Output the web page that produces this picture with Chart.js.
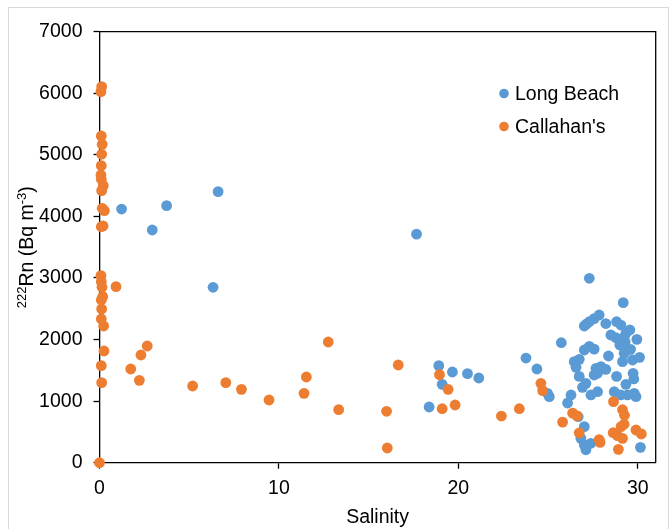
<!DOCTYPE html>
<html>
<head>
<meta charset="utf-8">
<script src="https://cdn.jsdelivr.net/npm/chart.js@4.4.1/dist/chart.umd.min.js"></script>
<style>
  html, body { margin: 0; padding: 0; background: #fff; }
  #wrap { width: 672px; height: 529px; position: relative; }
</style>
</head>
<body>
<div id="wrap"><canvas id="c" width="672" height="529"></canvas></div>
<script>
// ---- Data ----
const seriesNames = ["Long Beach", "Callahan's"];
const seriesColors = ["#5B9BD5", "#ED7D31"];

const longBeachSalinity = [
  1.23, 3.74, 6.61, 2.94, 6.33, 17.67,
  18.91, 19.1, 19.67, 20.51, 21.14, 18.37, 23.77, 24.38,
  25.07, 24.97, 25.74, 26.09, 26.28, 26.68,
  27.02, 26.83, 27.02, 27.11, 27.39, 30.15,
  27.3, 29.19, 27.85, 27.57, 27.3, 27.02, 27.15,
  28.22, 28.82, 29.06, 29.56, 29.34,
  28.5, 28.78, 29.15, 29.95, 29.3,
  27.3, 27.02, 27.57, 29.0, 29.43, 29.6, 29.24,
  30.1, 29.71, 28.37, 29.15,
  26.46, 26.74, 26.56, 27.67, 27.95, 28.22,
  26.74, 27.57, 27.76, 28.82, 29.74, 29.78, 29.34,
  27.11, 26.92, 27.39, 27.76,
  28.69, 29.06, 29.43, 29.8, 29.9
];
const longBeachRn = [
  4120, 4175, 4402, 3779, 2849, 3712,
  1576, 1273, 1473, 1446, 1376, 905, 1700, 1522,
  1073, 1127, 1949, 970, 1100, 747,
  585, 396, 290, 210, 315, 250,
  2995, 2599, 2399, 2340, 2290, 2220, 2255,
  2260, 2290, 2236, 2155, 2101,
  2074, 2030, 2020, 2004, 1960,
  1890, 1830, 1845, 1912, 1830, 1841, 1776,
  1711, 1668, 1733, 1641,
  1641, 1679, 1549, 1533, 1560, 1516,
  1402, 1424, 1452, 1402, 1452, 1360, 1273,
  1289, 1224, 1100, 1153,
  1153, 1100, 1100, 1127, 1073
];

const callahansSalinity = [
  0.12, 0.08, 0.1, 0.15, 0.12, 0.1, 0.08, 0.1, 0.21, 0.12, 0.15, 0.27, 0.1, 0.2,
  0.08, 0.1, 0.14, 0.18, 0.1, 0.12, 0.1, 0.23, 0.25, 0.1, 0.12, 0,
  0.92, 2.66, 2.31, 1.74, 2.22, 5.19, 7.04, 7.91, 9.45, 11.4, 11.53, 12.75,
  13.33, 16.0, 16.04, 16.65, 18.95, 19.43, 19.1, 19.82, 22.4, 23.4,
  24.6, 24.7, 25.81, 26.37, 26.62, 26.74, 27.85, 27.9,
  28.65, 29.15, 29.26, 29.24, 29.07, 28.63, 28.87, 29.15, 28.92, 29.9, 30.2
];
const callahansRn = [
  6107, 6026, 5306, 5171, 5009, 4824, 4673, 4603, 4499, 4418, 4132, 4093, 3833, 3845,
  3038, 2940, 2849, 2700, 2643, 2496, 2334, 2220, 1814, 1576, 1300, 0,
  2859, 1895, 1749, 1522, 1338, 1246, 1300, 1192, 1018, 1127, 1392, 1960,
  861, 835, 239, 1587, 1430, 1192, 877, 937, 758, 877,
  1289, 1170, 660, 805, 760, 485, 375, 330,
  991, 860, 770, 625, 585, 487, 440, 396, 217, 531, 466
];

const xTicks = [0, 10, 20, 30];
const yTicks = [0, 1000, 2000, 3000, 4000, 5000, 6000, 7000];
const xTitle = "Salinity";
// y title parts: [text, isSuperscript]
const yTitleParts = [["222", true], ["Rn (Bq m", false], ["-3", true], [")", false]];

// ---- Build ----
const FONT = "'Liberation Sans', Arial, sans-serif";
const FS = 19.5;

function pts(xs, ys) { return xs.map((x, i) => ({ x: x, y: ys[i] })); }

const framePlugin = {
  id: 'frame',
  beforeDraw(chart) {
    const ctx = chart.ctx;
    ctx.save();
    ctx.fillStyle = '#fff';
    ctx.fillRect(0, 0, chart.width, chart.height);
    ctx.strokeStyle = '#d9d9d9';
    ctx.lineWidth = 1;
    ctx.strokeRect(8.5, 7.5, 660, 600);
    ctx.restore();
  },
  afterDraw(chart) {
    const a = chart.chartArea, ctx = chart.ctx;
    ctx.save();
    ctx.strokeStyle = '#000';
    ctx.lineWidth = 1.3;
    ctx.beginPath();
    ctx.moveTo(a.left, a.top);
    ctx.lineTo(a.right, a.top);
    ctx.lineTo(a.right, a.bottom);
    ctx.stroke();
    // y title with superscripts
    ctx.fillStyle = '#000';
    ctx.textBaseline = 'alphabetic';
    ctx.textAlign = 'left';
    const norm = FS + 'px ' + FONT, sup = '13px ' + FONT;
    let total = 0;
    yTitleParts.forEach(p => { ctx.font = p[1] ? sup : norm; total += ctx.measureText(p[0]).width; });
    ctx.translate(33, (a.top + a.bottom) / 2);
    ctx.rotate(-Math.PI / 2);
    let x = -total / 2;
    yTitleParts.forEach(p => {
      ctx.font = p[1] ? sup : norm;
      ctx.fillText(p[0], x, p[1] ? -7 : 0);
      x += ctx.measureText(p[0]).width;
    });
    ctx.restore();
    // legend
    ctx.save();
    ctx.font = FS + 'px ' + FONT;
    ctx.textBaseline = 'middle';
    ctx.textAlign = 'left';
    chart.data.datasets.forEach((ds, i) => {
      const cy = 93.5 + 33 * i;
      ctx.fillStyle = ds.backgroundColor;
      ctx.beginPath();
      ctx.arc(504, cy, 4.8, 0, Math.PI * 2);
      ctx.fill();
      ctx.fillStyle = '#000';
      ctx.fillText(ds.label, 515, cy + 1);
    });
    ctx.restore();
  }
};

new Chart(document.getElementById('c'), {
  type: 'scatter',
  data: {
    datasets: [
      { label: seriesNames[0], data: pts(longBeachSalinity, longBeachRn),
        backgroundColor: seriesColors[0], borderWidth: 0, pointRadius: 5.4, order: 1, clip: false },
      { label: seriesNames[1], data: pts(callahansSalinity, callahansRn),
        backgroundColor: seriesColors[1], borderWidth: 0, pointRadius: 5.4, order: 0, clip: false }
    ]
  },
  options: {
    responsive: false,
    animation: false,
    devicePixelRatio: 1,
    layout: { padding: { left: 0, right: 16.3, top: 31.7, bottom: 0 } },
    plugins: { legend: { display: false }, tooltip: { enabled: false } },
    scales: {
      x: {
        type: 'linear', min: 0, max: 31,
        afterBuildTicks(s) { s.ticks = xTicks.map(v => ({ value: v })); },
        afterFit(s) { s.height = 66.3; },
        ticks: { font: { family: FONT, size: FS }, color: '#000', padding: 8, autoSkip: false, maxRotation: 0,
                 callback: v => String(v) },
        grid: { drawOnChartArea: false, drawTicks: true, tickLength: 6, tickColor: '#000', tickWidth: 1.3 },
        border: { display: true, color: '#000', width: 1.3 },
        title: { display: true, text: xTitle, font: { family: FONT, size: FS }, color: '#000', padding: { top: 0, bottom: 0 } }
      },
      y: {
        type: 'linear', min: 0, max: 7000,
        afterBuildTicks(s) { s.ticks = yTicks.map(v => ({ value: v })); },
        afterFit(s) { s.width = 99.5; },
        ticks: { font: { family: FONT, size: FS }, color: '#000', padding: 11, autoSkip: false,
                 callback: v => String(v) },
        grid: { drawOnChartArea: false, drawTicks: true, tickLength: 6, tickColor: '#000', tickWidth: 1.3 },
        border: { display: true, color: '#000', width: 1.3 }
      }
    }
  },
  plugins: [framePlugin]
});
</script>
</body>
</html>
